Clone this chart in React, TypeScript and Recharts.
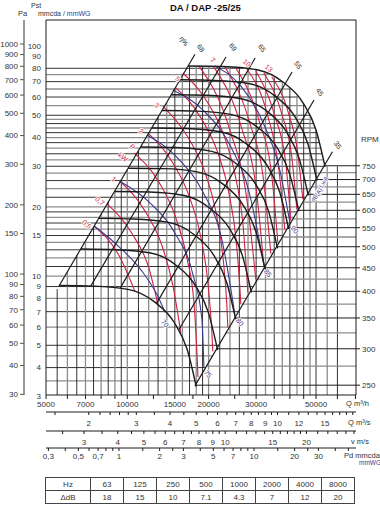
import { ComposedChart, Line, Scatter, XAxis, YAxis, ReferenceLine } from 'recharts';

const FONT = '"Liberation Sans Narrow", "Arial Narrow", "Liberation Sans", Arial, sans-serif';
const RED = '#cc2244';
const BLUE = '#3a3a90';
const INK = '#1c1c1c';
const GREY = '#8d8d8d';

// bottom scales (Q m3/h, Q m3/s, v m/s, Pd mmcda)
const qRange = [5000, 70300];
const qTicks = [5000, 6000, 7000, 8000, 9000, 10000, 12500, 15000, 17500, 20000, 25000, 30000, 35000, 40000, 45000, 50000, 60000, 70000];
const qLabels = [5000, 7000, 10000, 15000, 20000, 30000, 50000];
const qsRange = [1.389, 19.53];
const qsTicks = [1.5, 2, 2.2, 2.4, 2.6, 2.8, 3, 3.5, 4, 4.5, 5, 5.5, 6, 6.5, 7, 7.5, 8, 8.5, 9, 9.5, 10, 11, 12, 13, 14, 15, 16, 17, 18, 19];
const qsLabels = [2, 3, 4, 5, 6, 7, 8, 9, 10, 12, 15];
const vRange = [2.17, 30.51];
const vTicks = [2.5, 3, 3.5, 4, 4.5, 5, 5.5, 6, 6.5, 7, 7.5, 8, 8.5, 9, 9.5, 10, 11, 12, 13, 14, 15, 16, 17, 18, 19, 20, 22, 24, 26, 28, 30];
const vLabels = [3, 4, 5, 6, 7, 8, 9, 10, 15, 20];
const pdRange = [0.288, 56.97];
const pdTicks = [0.3, 0.4, 0.5, 0.6, 0.7, 0.8, 0.9, 1, 1.5, 2, 2.5, 3, 4, 5, 6, 7, 8, 9, 10, 15, 20, 25, 30, 40, 50];
const pdLabels = [0.3, 0.5, 0.7, 1, 2, 3, 5, 7, 10, 20, 30];

// left / right scales
const mmRange = [3.04, 129.7];
const mmTicks = [100, 90, 80, 70, 60, 50, 40, 30, 20, 15, 10, 9, 8, 7, 6, 5, 4, 3];
const paRange = [29.8, 1272];
const paTicks = [1000, 900, 800, 700, 600, 500, 400, 300, 200, 150, 100, 90, 80, 70, 60, 50, 40, 30];
const rpmRange = [238, 1556];
const rpmTicks = [250, 300, 350, 400, 450, 500, 550, 600, 650, 700, 750];

// grid: horizontal lines (mmcda) and where they stop on the right
const hGridP = [80, 75, 70, 65, 60, 55, 50, 48, 46, 44, 42, 40, 38, 36, 34, 32, 30, 28, 26, 24, 22, 20, 19, 18, 17, 16, 15, 14, 13, 12, 11, 10, 9, 8, 7, 6, 5, 4.5, 4, 3.5];
const hGridEnd = [27000, 33400, 37500, 40230, 42920, 45380, 47520, 48300, 49080, 49850, 50330, 50930, 51530, 52140, 52740, 53340, 53450, 51640, 49760, 47810, 45770, 43640, 42540, 41400, 40240, 39040, 37800, 36510, 35190, 33810, 32370, 30860, 29280, 27600, 25820, 23900, 21820, 20700, 19520, 18260];

// grid: vertical lines (m3/h) and where they stop at the top
const vGridQ = [5500, 6000, 6500, 7000, 7500, 8000, 8500, 9000, 9500, 10000, 11000, 12000, 13000, 14000, 15000, 16000, 17000, 18000, 19000, 20000, 22000, 24000, 26000, 28000, 30000, 32500, 35000, 37500, 40000, 42500, 45000, 47500, 50000, 55000, 60000];
const vGridTop = [8.77, 10.4, 12.3, 14.2, 16.3, 18.6, 21.0, 23.5, 26.2, 29.0, 35.1, 41.8, 49.0, 56.8, 65.3, 74.2, 81.8, 81.7, 81.6, 81.6, 81.4, 80.9, 80.2, 79.5, 78.8, 76.1, 73.0, 70.0, 65.4, 60.8, 56.0, 49.5, 43.1, 30, 30];

// RPM lines to the right of the envelope
const rpmStart = [17810, 21380, 24930, 28500, 32070, 35590, 39160, 42750, 46290, 49860, 53450];
const rpmMinor = [275, 325, 375, 425, 475, 525, 575, 625, 675, 725];
const rpmMinorStart = [19600, 23160, 26730, 30290, 33850, 37420, 40980, 44540, 48110, 51670];

type Pt = [number, number];

// fan curves [Q m3/h, Pst mmcda]
const fan750: Pt[] = [[16800, 81.8], [22600, 81.4], [30500, 78.6], [37700, 69.7], [44800, 56.5], [50000, 43.1], [54000, 29.8]];
const fan700: Pt[] = [[15680, 71.3], [21090, 70.9], [28470, 68.5], [35190, 60.7], [41810, 49.2], [46670, 37.5], [50400, 26.0]];
const fan650: Pt[] = [[14560, 61.4], [19590, 61.1], [26430, 59.0], [32670, 52.4], [38830, 42.4], [43330, 32.4], [46800, 22.4]];
const fan600: Pt[] = [[13440, 52.4], [18080, 52.1], [24400, 50.3], [30160, 44.6], [35840, 36.2], [40000, 27.6], [43200, 19.1]];
const fan550: Pt[] = [[12320, 44.0], [16570, 43.8], [22370, 42.3], [27650, 37.5], [32850, 30.4], [36670, 23.2], [39600, 16.0]];
const fan500: Pt[] = [[11200, 36.4], [15070, 36.2], [20330, 34.9], [25130, 31.0], [29870, 25.1], [33330, 19.2], [36000, 13.2]];
const fan450: Pt[] = [[10080, 29.4], [13560, 29.3], [18300, 28.3], [22620, 25.1], [26880, 20.3], [30000, 15.5], [32400, 10.7]];
const fan400: Pt[] = [[8960, 23.3], [12050, 23.2], [16270, 22.4], [20110, 19.8], [23890, 16.1], [26670, 12.3], [28800, 8.48]];
const fan350: Pt[] = [[7840, 17.8], [10550, 17.7], [14230, 17.1], [17590, 15.2], [20910, 12.3], [23330, 9.39], [25200, 6.49]];
const fan300: Pt[] = [[6720, 13.1], [9040, 13.0], [12200, 12.6], [15080, 11.2], [17920, 9.04], [20000, 6.90], [21600, 4.77]];
const fan250: Pt[] = [[5600, 9.09], [7530, 9.04], [10170, 8.73], [12570, 7.74], [14930, 6.28], [16670, 4.79], [18000, 3.31]];

// efficiency (system) lines
const eff68: Pt[] = [[5580, 9.03], [17810, 92]];
const eff69: Pt[] = [[7330, 9.06], [23200, 89.6]];
const eff65: Pt[] = [[9430, 8.9], [29750, 88.7]];
const eff55: Pt[] = [[12830, 7.61], [40750, 77.1]];
const eff45: Pt[] = [[15500, 5.83], [49150, 58.2]];
const eff35: Pt[] = [[17800, 3.33], [57500, 34.7]];

// absorbed power curves (kW)
const kw05: Pt[] = [[7530, 16.5], [9310, 12.3], [10670, 8.58]];
const kw07: Pt[] = [[8410, 20.6], [10410, 15.3], [12030, 10.8], [12980, 7.53]];
const kw1: Pt[] = [[9390, 25.8], [11620, 19.2], [13430, 13.6], [14750, 9.10], [15790, 5.65]];
const kw15: Pt[] = [[10580, 34.3], [13090, 25.6], [15130, 17.9], [16620, 12.0], [17650, 7.68], [18110, 4.67], [18270, 3.64]];
const kw2: Pt[] = [[11930, 41.8], [14750, 31.0], [17050, 21.8], [18730, 14.7], [19880, 9.38], [20570, 5.70], [20740, 4.71]];
const kw3: Pt[] = [[13540, 54.8], [16760, 40.2], [19380, 28.3], [21280, 19.0], [22590, 12.2], [23380, 7.38], [23570, 5.99]];
const kw4: Pt[] = [[15130, 65.7], [18730, 48.7], [21650, 34.3], [23780, 23.0], [25230, 14.7], [26110, 8.93], [26330, 7.53]];
const kw5: Pt[] = [[16060, 76.3], [19880, 56.5], [22980, 39.8], [25230, 26.6], [26790, 17.0], [27960, 8.49]];
const kw6: Pt[] = [[18410, 81.9], [23980, 43.1], [27720, 21.6], [29920, 9.66]];
const kw7: Pt[] = [[20920, 81.1], [26450, 44.4], [30050, 23.7], [32030, 11.1]];
const kw8: Pt[] = [[22980, 81.1], [28430, 46.2], [32030, 25.6], [34000, 12.5]];
const kw9: Pt[] = [[25230, 80.2], [30700, 47.7], [34290, 27.2], [36090, 14.1]];
const kw10: Pt[] = [[27720, 79.4], [33140, 49.6], [36400, 29.2], [38300, 15.9]];
const kw11: Pt[] = [[29920, 77.8], [35180, 49.6], [38630, 31.0], [40310, 17.5]];
const kw12: Pt[] = [[32030, 76.3], [37340, 50.6], [40660, 32.9], [42430, 19.6]];
const kw13: Pt[] = [[34290, 73.3], [39630, 50.6], [42790, 34.3], [44650, 21.6]];

// sound power curves LwA dB(A)
const db70: Pt[] = [[7530, 16.5], [9390, 13.3], [11330, 10.5], [12980, 8.16], [13780, 6.96]];
const db75: Pt[] = [[9390, 25.8], [12130, 20.8], [15000, 15.4], [17490, 10.2], [18890, 6.49], [19220, 4.02]];
const db80: Pt[] = [[11820, 41.0], [15400, 32.5], [19050, 23.2], [22400, 14.4], [25020, 6.82]];
const db85: Pt[] = [[14750, 64.4], [19380, 51.7], [23980, 37.1], [28430, 22.5], [32030, 11.2]];
const db90: Pt[] = [[21100, 81.9], [26110, 67.7], [31490, 47.7], [36710, 28.9], [39970, 17.2]];

const effLabels = [
  { t: 'η%', q: 16200, p: 105 }, { t: '68', q: 18700, p: 98 }, { t: '69', q: 24640, p: 99 },
  { t: '65', q: 31550, p: 98 }, { t: '55', q: 42900, p: 82.7 }, { t: '45', q: 51600, p: 63.1 },
  { t: '35', q: 60250, p: 37.1 },
];
const kwLabels = [
  { t: '0,5', q: 7090, p: 16.8 }, { t: '0,7', q: 7920, p: 21.2 }, { t: '1', q: 8920, p: 26.4 },
  { t: 'kW', q: 9640, p: 32.9 }, { t: 'P', q: 10450, p: 36.4 }, { t: '2', q: 11240, p: 42.7 },
  { t: '3', q: 12880, p: 55.4 }, { t: '5', q: 15400, p: 71.9 }, { t: '7', q: 20760, p: 86.9 },
  { t: '10', q: 27720, p: 84.4 }, { t: '13', q: 33420, p: 80.2 },
];
const dbLabels = [
  { t: '70', q: 13780, p: 6.23 }, { t: '75', q: 19880, p: 3.75 }, { t: '80', q: 26110, p: 6.3 },
  { t: '85', q: 33140, p: 10.3 }, { t: '90', q: 41710, p: 15.9 },
];
const lwaLabels = [{ t: 'LwA', q: 53390, p: 25.6 }, { t: 'dB(A)', q: 50300, p: 22.5 }];

// octave correction table
const hz = ['63', '125', '250', '500', '1000', '2000', '4000', '8000'];
const deltaDb = ['18', '15', '10', '7.1', '4.3', '7', '12', '20'];

const fanCurves = [fan250, fan300, fan350, fan400, fan450, fan500, fan550, fan600, fan650, fan700, fan750];
const effLines = [eff68, eff69, eff65, eff55, eff45, eff35];
const kwCurves = [kw05, kw07, kw1, kw15, kw2, kw3, kw4, kw5, kw6, kw7, kw8, kw9, kw10, kw11, kw12, kw13];
const dbCurves = [db70, db75, db80, db85, db90];

const toData = (pts: Pt[]) => pts.map(([q, p]) => ({ q, p }));
// the extra bottom scales only get ticks when a (hidden) series is bound to them
const span = (r: number[]) => r.map((x) => ({ x, p: 10 }));

function bottomTick(labels: number[]) {
  return (props: any) => {
    const { x, y, payload } = props;
    if (!labels.includes(payload.value)) return <g />;
    return (
      <text x={x} y={y} dy="0.71em" textAnchor="middle" fontSize={8} fill="#333" fontFamily={FONT}>
        {String(payload.value).replace('.', ',')}
      </text>
    );
  };
}

function labelShape(color: string, rot: number, size = 7) {
  return (props: any) => {
    const { cx, cy, payload } = props;
    return (
      <text
        x={cx}
        y={cy}
        transform={`rotate(${rot} ${cx} ${cy})`}
        textAnchor="middle"
        dominantBaseline="central"
        fontSize={size}
        fill={color}
        stroke="#fff"
        strokeWidth={1.6}
        paintOrder="stroke"
        fontFamily={FONT}
      >
        {payload.t}
      </text>
    );
  };
}

const yTick = { fontSize: 8, fill: '#333', fontFamily: FONT };
const txt = (left: number, top: number, size = 8, extra: any = {}) => ({
  position: 'absolute' as const, left, top, fontSize: size, fontFamily: FONT, color: '#333', lineHeight: 1, whiteSpace: 'nowrap' as const, ...extra,
});
const cell = { border: '1px solid #444', width: 32, height: 12, padding: 0, textAlign: 'center' as const };

const hidden = { stroke: 'none', dot: false, activeDot: false, isAnimationActive: false, legendType: 'none' as const };

// axis ids are sorted when stacked, so they are numbered in top-to-bottom order
export default function App() {
  return (
    <div style={{ position: 'absolute', left: 0, top: 0, width: 380, height: 512, background: '#fff' }}>
      <div style={txt(170, 3, 9.5, { fontWeight: 'bold', color: '#111' })}>DA / DAP -25/25</div>
      <div style={txt(31, 2, 7)}>Pst</div>
      <div style={txt(18, 10, 7.5)}>Pa</div>
      <div style={txt(38, 10, 7)}>mmcda / <span style={{ color: BLUE }}>mmWG</span></div>
      <div style={txt(361, 136, 8)}>RPM</div>

      <ComposedChart width={380} height={466} margin={{ top: 20, right: 0, bottom: 0, left: 0 }}>
        <XAxis xAxisId="x1" dataKey="q" type="number" scale="log" domain={qRange} allowDataOverflow
          ticks={qTicks} interval={0} tick={bottomTick(qLabels)} tickSize={4} tickMargin={2} height={17} stroke={INK} />
        <XAxis xAxisId="x2" dataKey="x" type="number" scale="log" domain={qsRange} allowDataOverflow
          ticks={qsTicks} interval={0} tick={bottomTick(qsLabels)} tickSize={3} tickMargin={5} height={19} stroke={INK} />
        <XAxis xAxisId="x3" dataKey="x" type="number" scale="log" domain={vRange} allowDataOverflow
          ticks={vTicks} interval={0} tick={bottomTick(vLabels)} tickSize={3} tickMargin={5} height={17} stroke={INK} />
        <XAxis xAxisId="x4" dataKey="x" type="number" scale="log" domain={pdRange} allowDataOverflow
          ticks={pdTicks} interval={0} tick={bottomTick(pdLabels)} tickSize={3} tickMargin={2} height={18} stroke={INK} />

        <YAxis yAxisId="mm" type="number" scale="log" domain={mmRange} allowDataOverflow ticks={mmTicks}
          interval={0} width={22} tickLine={false} tickSize={2} tickMargin={3} stroke={INK} tick={yTick} />
        <YAxis yAxisId="pa" type="number" scale="log" domain={paRange} allowDataOverflow ticks={paTicks}
          interval={0} width={24} tickSize={4} tickMargin={2} axisLine={{ stroke: '#999', strokeWidth: 2 }}
          tickLine={{ stroke: '#555' }} tick={yTick} />
        <YAxis yAxisId="rpm" orientation="right" type="number" scale="log" domain={rpmRange} allowDataOverflow
          ticks={rpmTicks} interval={0} width={24} tickSize={4} tickMargin={2} stroke={INK} tick={yTick} />

        <Line xAxisId="x2" yAxisId="mm" data={span(qsRange)} dataKey="p" {...hidden} />
        <Line xAxisId="x3" yAxisId="mm" data={span(vRange)} dataKey="p" {...hidden} />
        <Line xAxisId="x4" yAxisId="mm" data={span(pdRange)} dataKey="p" {...hidden} />

        {hGridP.map((p, i) => (
          <ReferenceLine key={'h' + i} xAxisId="x1" yAxisId="mm" segment={[{ x: 5000, y: p }, { x: hGridEnd[i], y: p }]}
            stroke={i % 2 ? GREY : INK} strokeWidth={i % 2 ? 1.3 : 0.9} />
        ))}
        {vGridQ.map((q, i) => (
          <ReferenceLine key={'v' + i} xAxisId="x1" yAxisId="mm" segment={[{ x: q, y: 3.04 }, { x: q, y: vGridTop[i] }]}
            stroke={i % 2 ? GREY : INK} strokeWidth={i % 2 ? 1.3 : 0.9} />
        ))}
        {rpmTicks.map((n, i) => (
          <ReferenceLine key={'r' + i} xAxisId="x1" yAxisId="rpm" segment={[{ x: rpmStart[i], y: n }, { x: 70300, y: n }]}
            stroke={INK} strokeWidth={1} />
        ))}
        {rpmMinor.map((n, i) => (
          <ReferenceLine key={'rm' + i} xAxisId="x1" yAxisId="rpm" segment={[{ x: rpmMinorStart[i], y: n }, { x: 70300, y: n }]}
            stroke={GREY} strokeWidth={1.3} />
        ))}
        <ReferenceLine xAxisId="x1" yAxisId="mm" y={129.7} stroke={INK} strokeWidth={1} />

        {kwCurves.map((c, i) => (
          <Line key={'k' + i} xAxisId="x1" yAxisId="mm" data={toData(c)} dataKey="p" type="monotone"
            stroke={RED} strokeWidth={1.1} dot={false} activeDot={false} isAnimationActive={false} legendType="none" />
        ))}
        {dbCurves.map((c, i) => (
          <Line key={'d' + i} xAxisId="x1" yAxisId="mm" data={toData(c)} dataKey="p" type="monotone"
            stroke={BLUE} strokeWidth={1.1} dot={false} activeDot={false} isAnimationActive={false} legendType="none" />
        ))}
        {fanCurves.map((c, i) => (
          <Line key={'f' + i} xAxisId="x1" yAxisId="mm" data={toData(c)} dataKey="p" type="monotone"
            stroke={INK} strokeWidth={1.4} dot={false} activeDot={false} isAnimationActive={false} legendType="none" />
        ))}
        {effLines.map((c, i) => (
          <Line key={'e' + i} xAxisId="x1" yAxisId="mm" data={toData(c)} dataKey="p" type="linear"
            stroke={INK} strokeWidth={1.2} dot={false} activeDot={false} isAnimationActive={false} legendType="none" />
        ))}

        <Scatter xAxisId="x1" yAxisId="mm" data={effLabels} dataKey="p" isAnimationActive={false} shape={labelShape(INK, 55)} legendType="none" />
        <Scatter xAxisId="x1" yAxisId="mm" data={kwLabels} dataKey="p" isAnimationActive={false} shape={labelShape(RED, 40)} legendType="none" />
        <Scatter xAxisId="x1" yAxisId="mm" data={dbLabels} dataKey="p" isAnimationActive={false} shape={labelShape(BLUE, 50)} legendType="none" />
        <Scatter xAxisId="x1" yAxisId="mm" data={lwaLabels} dataKey="p" isAnimationActive={false} shape={labelShape(BLUE, -58, 6)} legendType="none" />
      </ComposedChart>

      <div style={txt(346, 400, 7.5)}>Q m³/h</div>
      <div style={txt(348, 419, 7.5)}>Q m³/s</div>
      <div style={txt(351, 438, 7.5)}>v m/s</div>
      <div style={txt(344, 452, 7.5)}>Pd mmcda</div>
      <div style={txt(359, 460, 6.5, { color: BLUE })}>mmWG</div>

      <table style={{ position: 'absolute', left: 45, top: 477, borderCollapse: 'collapse', fontFamily: FONT, fontSize: 8, color: '#333' }}>
        <tbody>
          <tr>
            <td style={{ ...cell, width: 44 }}>Hz</td>
            {hz.map((h) => <td key={h} style={cell}>{h}</td>)}
          </tr>
          <tr>
            <td style={{ ...cell, width: 44 }}>ΔdB</td>
            {deltaDb.map((d, i) => <td key={i} style={cell}>{d}</td>)}
          </tr>
        </tbody>
      </table>
    </div>
  );
}
